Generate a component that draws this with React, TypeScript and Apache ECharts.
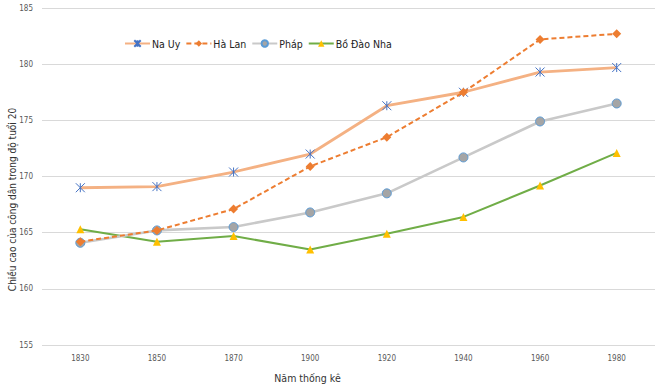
import React, { useEffect, useRef } from "react";
import * as echarts from "echarts";

const years = ["1830", "1850", "1870", "1900", "1920", "1940", "1960", "1980"];
const naUy = [169.0, 169.1, 170.4, 172.0, 176.3, 177.5, 179.3, 179.7];
const haLan = [164.2, 165.2, 167.1, 170.9, 173.5, 177.5, 182.2, 182.7];
const phap = [164.1, 165.2, 165.5, 166.8, 168.5, 171.7, 174.9, 176.5];
const boDaoNha = [165.3, 164.2, 164.7, 163.5, 164.9, 166.4, 169.2, 172.1];
const yTicks = { min: 155, max: 185, interval: 5 };

const FONT = "'DejaVu Sans Condensed', 'DejaVu Sans', sans-serif";
const asterisk = "path://M0,0L10,10M10,0L0,10M5,0L5,10";

export default function App() {
  const ref = useRef<HTMLDivElement>(null);
  useEffect(() => {
    if (!ref.current) return;
    const chart = echarts.init(ref.current, null, { renderer: "svg" });
    chart.setOption({
      animation: false,
      textStyle: { fontFamily: FONT },
      grid: { left: 42, right: 5, top: 8, bottom: 40, outerBoundsMode: "none", containLabel: false },
      legend: {
        left: 119,
        top: 33,
        itemWidth: 25,
        itemHeight: 8,
        itemGap: 5,
        textStyle: { fontSize: 10.5, color: "#222", fontFamily: FONT, padding: [0, 0, 0, -3] },
        data: ["Na Uy", "Hà Lan", "Pháp", "Bồ Đào Nha"],
      },
      xAxis: {
        type: "category",
        data: years,
        boundaryGap: true,
        axisLine: { show: false },
        axisTick: { show: false },
        axisLabel: { fontSize: 8, color: "#595959", margin: 9 },
        name: "Năm thống kê",
        nameLocation: "middle",
        nameGap: 27,
        nameMoveOverlap: false,
        nameTextStyle: { fontSize: 10.5, color: "#333", padding: [0, 82, 0, 0] },
      },
      yAxis: {
        type: "value",
        min: yTicks.min,
        max: yTicks.max,
        interval: yTicks.interval,
        axisLine: { show: false },
        axisTick: { show: false },
        splitLine: { lineStyle: { color: "#D9D9D9", width: 1 } },
        axisLabel: { fontSize: 8, color: "#595959", margin: 9 },
        name: "Chiều cao của công dân trong độ tuổi 20",
        nameLocation: "middle",
        nameGap: 25,
        nameMoveOverlap: false,
        nameTextStyle: { fontSize: 10, color: "#333", padding: [0, 46, 0, 0] },
      },
      series: [
        {
          name: "Na Uy",
          type: "line",
          data: naUy,
          symbol: asterisk,
          symbolSize: 9,
          lineStyle: { color: "#F4B183", width: 2.8 },
          itemStyle: { color: "#4472C4", borderColor: "#4472C4", borderWidth: 1 },
          z: 4,
        },
        {
          name: "Hà Lan",
          type: "line",
          data: haLan,
          symbol: "diamond",
          symbolSize: 9,
          lineStyle: { color: "#ED7D31", width: 2, type: [5, 3] },
          itemStyle: { color: "#ED7D31" },
          z: 5,
        },
        {
          name: "Pháp",
          type: "line",
          data: phap,
          symbol: "circle",
          symbolSize: 9,
          lineStyle: { color: "#C9C9C9", width: 2.6 },
          itemStyle: { color: "#A5A5A5", borderColor: "#5B9BD5", borderWidth: 1 },
          z: 3,
        },
        {
          name: "Bồ Đào Nha",
          type: "line",
          data: boDaoNha,
          symbol: "triangle",
          symbolSize: 8,
          lineStyle: { color: "#70AD47", width: 2 },
          itemStyle: { color: "#FFC000" },
          z: 2,
        },
      ],
    });
    return () => chart.dispose();
  }, []);
  return <div ref={ref} style={{ width: 660, height: 385, position: "absolute", left: 0, top: 0, background: "#fff" }} />;
}
